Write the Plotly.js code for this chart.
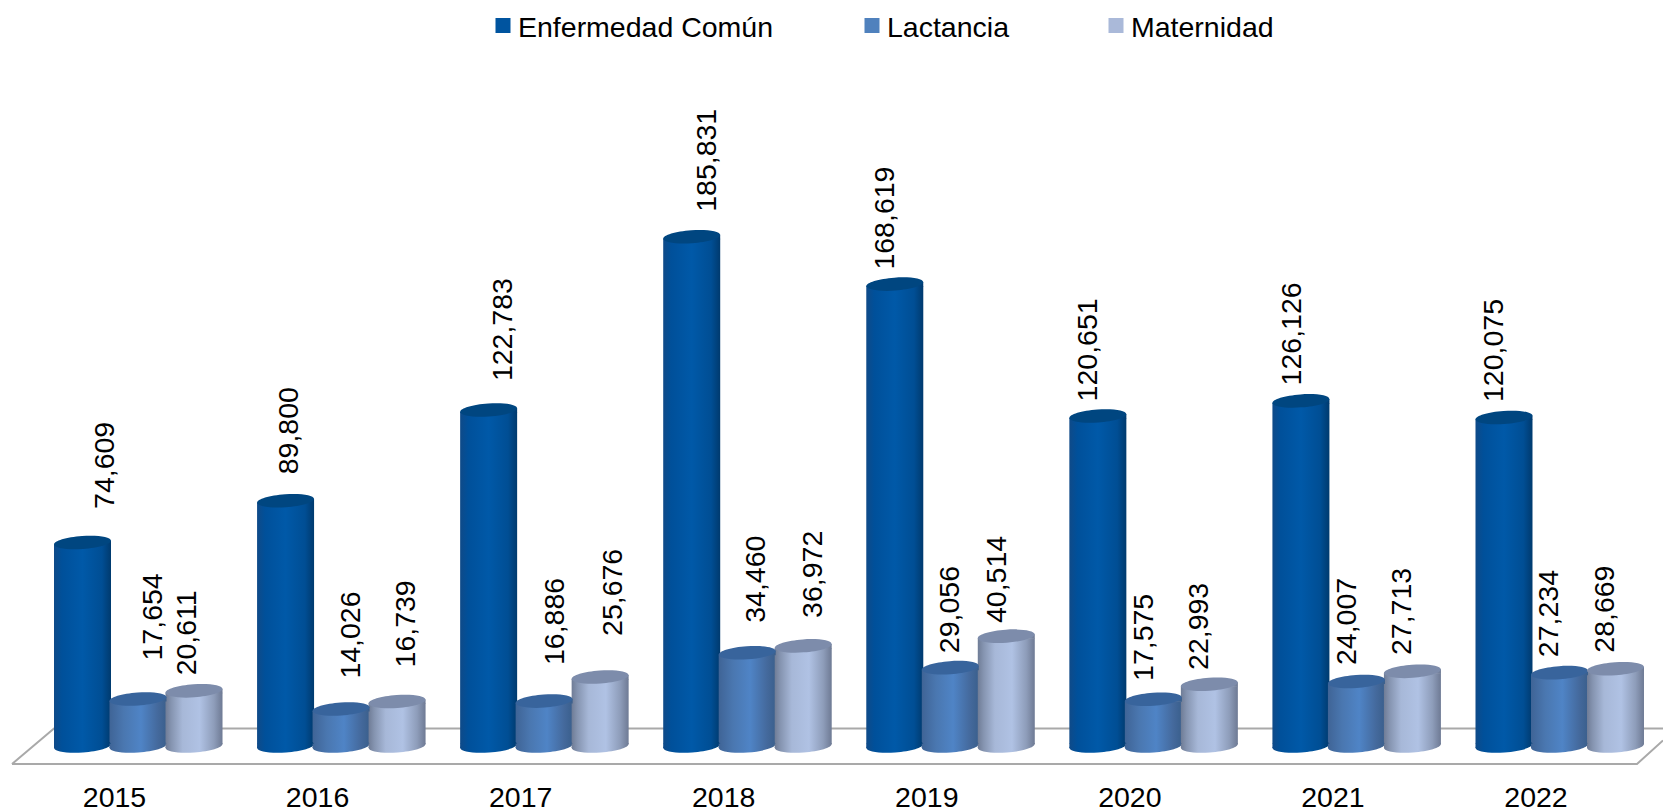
<!DOCTYPE html>
<html>
<head>
<meta charset="utf-8">
<script src="https://cdn.plot.ly/plotly-3.0.1.min.js"></script>
<style>html,body{margin:0;padding:0;background:#fff;overflow:hidden}#chart{width:1663px;height:810px}</style>
</head>
<body>
<div id="chart"></div>
<script>
// ---- data ----
var years = ['2015','2016','2017','2018','2019','2020','2021','2022'];
var enfermedadComun = [74609, 89800, 122783, 185831, 168619, 120651, 126126, 120075];
var lactancia       = [17654, 14026, 16886, 34460, 29056, 17575, 24007, 27234];
var maternidad      = [20611, 16739, 25676, 36972, 40514, 22993, 27713, 28669];
var seriesNames = ['Enfermedad Común', 'Lactancia', 'Maternidad'];

// ---- label placement relative to each bar (pixels) ----
var labelDx = [
  [21.5, 2.5, 12.9, 14.8, -10.8, -10.9, -9.9, -11],
  [13.5, 8.5, 9.9, 8.3, -1.3, -10.4, -10.4, -11.5],
  [-8, 8.4, 12.4, 9.3, -10.3, -11.4, -11.4, -11]
];
var labelGap = [
  [36, 29, 32, 28, 18, 18, 18, 19],
  [41.5, 33.4, 38.6, 33, 18, 21.7, 19, 19],
  [18, 37, 44, 31, 16.6, 17.8, 18.8, 19]
];

// ---- layout geometry and styling ----
var W = 1663, H = 810;
var axisBottomPx = 744.5;          // pixel row of the axis floor
var unitPx = 203.07;               // pixels per category
var firstTickPx = 114.5;
var yMin = 2000, yMax = 272727;
var barPx = 57;
var barW = barPx / unitPx;
var barOffset = [-60.5 / unitPx, -5 / unitPx, 51 / unitPx];
var solid = ['#00549F', '#4F81BD', '#AAB9D9'];
var capColor = ['#004680', '#38649C', '#7D8CAB'];
var gradStops = [
  [[0,'#0f4a88'],[0.14,'#00509a'],[0.5,'#0059a8'],[0.84,'#004e94'],[1,'#003a6e']],
  [[0,'#3f6496'],[0.25,'#4a77b0'],[0.55,'#4f84c6'],[0.85,'#44699c'],[1,'#3a5f8c']],
  [[0,'#6f7c96'],[0.1,'#8594b0'],[0.3,'#a7b8d8'],[0.6,'#b0c2e4'],[0.85,'#8e9dba'],[1,'#6e7a94']]
];
var fontFam = 'Arial, "Liberation Sans", sans-serif';
var fontSize = 28.5;
var legendTextPx = [518, 887, 1131];
var values = [enfermedadComun, lactancia, maternidad];
var idx = years.map(function (_, i) { return i; });

// tilted ellipse as a pixel path relative to its anchor (y grows upward)
function capPath(cy) {
  var a = barPx / 2, b = 6.5, sin = 2 / a, cos = Math.sqrt(1 - sin * sin), k = 0.5523;
  function p(u, v) { return (u * cos - v * sin).toFixed(2) + ',' + (u * sin + v * cos + cy).toFixed(2); }
  return 'M' + p(-a, 0) +
    'C' + p(-a, k * b) + ' ' + p(-k * a, b) + ' ' + p(0, b) +
    'C' + p(k * a, b) + ' ' + p(a, k * b) + ' ' + p(a, 0) +
    'C' + p(a, -k * b) + ' ' + p(k * a, -b) + ' ' + p(0, -b) +
    'C' + p(-k * a, -b) + ' ' + p(-a, -k * b) + ' ' + p(-a, 0) + 'Z';
}
var hw = barPx / 2;
var topWedge = 'M' + (-hw) + ',-0.5L' + hw + ',-0.5L' + hw + ',4L' + (-hw) + ',0Z';
var footWedge = 'M' + (-hw) + ',0.5L' + hw + ',0.5L' + hw + ',0L' + (-hw) + ',-4Z';

var traces = seriesNames.map(function (name, s) {
  return {
    type: 'bar', name: name, x: idx, y: values[s],
    width: barW, offset: barOffset[s],
    marker: { color: solid[s], line: { width: 0 } },
    legend: s === 0 ? 'legend' : 'legend' + (s + 1),
    hoverinfo: 'skip'
  };
});

function fx(px) { return px / W; }
function fy(py) { return 1 - py / axisBottomPx; }

var shapes = [{
  type: 'path', xref: 'paper', yref: 'paper', layer: 'below',
  path: 'M' + fx(12) + ',' + fy(764.5) + 'L' + fx(54) + ',' + fy(729) + 'L' + fx(1663) + ',' + fy(729) +
        'M' + fx(12) + ',' + fy(764.5) + 'L' + fx(1637) + ',' + fy(764.5) + 'L' + fx(1663) + ',' + fy(741),
  line: { color: '#a9a9a9', width: 2 }, fillcolor: 'rgba(0,0,0,0)'
}];
var shapeFill = [];
var annotations = [];
seriesNames.forEach(function (name, s) {
  values[s].forEach(function (v, i) {
    var cx = i + barOffset[s] + barW / 2;
    function add(path, yref, yanchor, useGradient) {
      shapes.push({
        type: 'path', xref: 'x', yref: yref, xsizemode: 'pixel', ysizemode: 'pixel',
        xanchor: cx, yanchor: yanchor, path: path, layer: 'above',
        fillcolor: capColor[s], line: { width: 0 }
      });
      if (useGradient) shapeFill.push([shapes.length - 1, s]);
    }
    add(footWedge, 'paper', 0, true);
    add(capPath(-2), 'paper', 0, true);
    add(topWedge, 'y', v, true);
    add(capPath(2), 'y', v, false);
    annotations.push({
      x: cx, y: v, xref: 'x', yref: 'y', xanchor: 'center', yanchor: 'bottom',
      xshift: labelDx[s][i], yshift: labelGap[s][i] - 2,
      text: v.toLocaleString('en-US'), showarrow: false, textangle: -90,
      font: { family: fontFam, size: fontSize, color: '#000' }, borderpad: 0
    });
  });
});

function legendFor(s) {
  return {
    x: fx(legendTextPx[s] - 40), xanchor: 'left', y: fy(26), yanchor: 'middle',
    bgcolor: 'rgba(0,0,0,0)', borderwidth: 0,
    font: { family: fontFam, size: fontSize, color: '#000' }
  };
}

var layout = {
  width: W, height: H, autosize: false,
  margin: { l: 0, r: 0, t: 0, b: H - axisBottomPx, pad: 0 },
  paper_bgcolor: '#fff', plot_bgcolor: 'rgba(0,0,0,0)',
  barmode: 'overlay', showlegend: true,
  legend: legendFor(0), legend2: legendFor(1), legend3: legendFor(2),
  xaxis: {
    type: 'linear', range: [-firstTickPx / unitPx, (W - firstTickPx) / unitPx],
    tickmode: 'array', tickvals: idx, ticktext: years,
    ticks: 'outside', ticklen: 28, tickcolor: 'rgba(0,0,0,0)', tickwidth: 1,
    showgrid: false, zeroline: false, showline: false, automargin: false,
    tickfont: { family: fontFam, size: fontSize, color: '#000' }
  },
  yaxis: {
    range: [yMin, yMax], visible: false, showgrid: false, zeroline: false, automargin: false
  },
  shapes: shapes, annotations: annotations
};

Plotly.newPlot('chart', traces, layout, { displayModeBar: false, staticPlot: true }).then(function () {
  var root = document.getElementById('chart');
  var svg = root.querySelector('svg.main-svg');
  var defs = svg.querySelector('defs');
  var NS = 'http://www.w3.org/2000/svg';
  gradStops.forEach(function (stops, s) {
    var g = document.createElementNS(NS, 'linearGradient');
    g.setAttribute('id', 'cyl' + s);
    g.setAttribute('x1', '0'); g.setAttribute('x2', '1'); g.setAttribute('y1', '0'); g.setAttribute('y2', '0');
    stops.forEach(function (st) {
      var e = document.createElementNS(NS, 'stop');
      e.setAttribute('offset', st[0]); e.setAttribute('stop-color', st[1]);
      g.appendChild(e);
    });
    defs.appendChild(g);
  });
  root.querySelectorAll('.barlayer .trace').forEach(function (tr, s) {
    tr.querySelectorAll('.point path').forEach(function (p) { p.style.fill = 'url(#cyl' + s + ')'; });
  });
  shapeFill.forEach(function (pair) {
    var p = root.querySelector('.shapelayer path[data-index="' + pair[0] + '"]');
    if (p) p.style.fill = 'url(#cyl' + pair[1] + ')';
  });
  root.querySelectorAll('.legendpoints path').forEach(function (p) {
    var t = p.getAttribute('transform') || '';
    p.setAttribute('transform', t + ' translate(5,0) scale(1.25)');
  });
});
</script>
</body>
</html>
